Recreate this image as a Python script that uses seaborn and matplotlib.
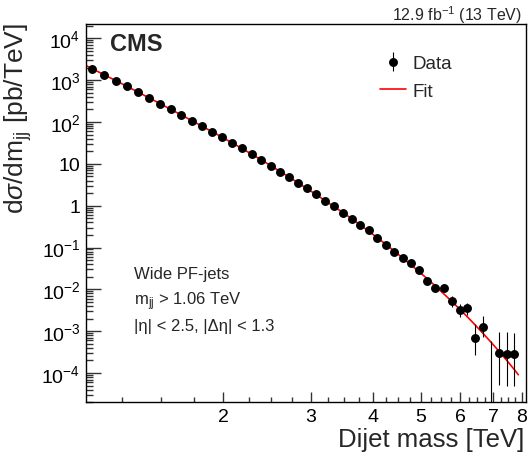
import numpy as np
import pandas as pd
import matplotlib
matplotlib.use("Agg")
import matplotlib.pyplot as plt
import seaborn as sns
from matplotlib.ticker import FixedLocator, FuncFormatter, LogLocator, NullFormatter

# ---------------- data ----------------
bin_edges_gev = [1058, 1118, 1181, 1246, 1313, 1383, 1455, 1530, 1607, 1687,
                 1770, 1856, 1945, 2037, 2132, 2231, 2332, 2438, 2546, 2659,
                 2775, 2895, 3019, 3147, 3279, 3416, 3558, 3704, 3854, 4010,
                 4171, 4337, 4509, 4686, 4869, 5058, 5253, 5455, 5663, 5877,
                 6099, 6328, 6564, 6808, 7060, 7320, 7589, 7866]

xsec = [1871, 1346, 968, 708, 518, 372, 273, 200, 146, 107,
        79.8, 58.6, 42.9, 31.3, 23.4, 16.9, 12.3, 8.85, 6.51, 4.84,
        3.56, 2.60, 1.87, 1.32, 0.984, 0.684, 0.492, 0.340, 0.269, 0.169,
        0.115, 0.0785, 0.0556, 0.0438, 0.0287, 0.0157, 0.0107, 0.0109, 0.00514, 0.00319,
        0.00350, 6.73e-4, 1.27e-3, 0.0, 2.95e-4, 2.88e-4, 2.80e-4]

err_lo = [0] * 30 + [0.0074, 0.0060, 0.0049, 0.0043, 0.0034, 0.0025, 0.0020, 0.0020,
                     0.0014, 0.0010, 0.0011, 4.0e-4, 5.5e-4, 0.0, 2.44e-4, 2.38e-4, 2.32e-4]
err_hi = [0] * 30 + [0.0074, 0.0060, 0.0049, 0.0043, 0.0038, 0.0029, 0.0024, 0.0024,
                     0.0017, 0.0013, 0.0013, 8.0e-4, 1.0e-3, 5.7e-4, 6.8e-4, 6.6e-4, 6.4e-4]

fit_vals = [2240, 1884, 1358, 982, 711, 516, 376, 274, 200, 147, 108,
            79.4, 58.5, 43.1, 31.7, 23.3, 17.1, 12.5, 9.10, 6.62, 4.81,
            3.48, 2.52, 1.82, 1.31, 0.942, 0.684, 0.486, 0.345, 0.244, 0.171,
            0.119, 0.0822, 0.0565, 0.0387, 0.0264, 0.0179, 0.0120, 0.00794, 0.00522, 0.00340,
            0.00219, 0.00139, 8.73e-4, 5.42e-4, 3.33e-4, 2.01e-4, 1.20e-4, 9.1e-5]

x_major = [2, 3, 4, 5, 6, 7, 8]
x_minor = [1.25, 1.5, 1.75, 2.25, 2.5, 2.75, 3.25, 3.5, 3.75, 4.25, 4.5, 4.75,
           5.25, 5.5, 5.75, 6.25, 6.5, 6.75, 7.25, 7.5, 7.75]
y_major = [1e-4, 1e-3, 1e-2, 1e-1, 1, 10, 1e2, 1e3, 1e4]

edges = np.array(bin_edges_gev) / 1000.0
centers = 0.5 * (edges[:-1] + edges[1:])
fit_mass = np.concatenate([[edges[0]], centers, [edges[-1]]])

data_df = pd.DataFrame({"mass": centers, "xsec": xsec, "lo": err_lo, "hi": err_hi})
fit_df = pd.DataFrame({"mass": fit_mass, "fit": fit_vals})

# ---------------- style ----------------
sns.set_theme(style="ticks")
plt.rcParams["font.family"] = ["Liberation Sans", "DejaVu Sans"]
plt.rcParams["mathtext.fontset"] = "custom"
plt.rcParams["mathtext.rm"] = "Liberation Sans"
plt.rcParams["mathtext.it"] = "Liberation Sans:italic"
plt.rcParams["mathtext.bf"] = "Liberation Sans:bold"

W, H = 529, 460
fig = plt.figure(figsize=(W / 100, H / 100), dpi=100)
ax = fig.add_axes([86 / W, 1 - 403.3 / H, (526 - 86) / W, (403.3 - 25) / H])

sns.lineplot(data=fit_df, x="mass", y="fit", ax=ax, color="#ff0000", lw=1.2,
             estimator=None, sort=False, label="Fit", zorder=2)
ax.errorbar(data_df["mass"], data_df["xsec"], yerr=[data_df["lo"], data_df["hi"]],
            fmt="o", color="black", ms=5.4, elinewidth=0.8, capsize=0,
            label="Data", zorder=3)

ax.set_xscale("log")
ax.set_yscale("log")
ax.set_xlim(edges[0], 8.152)
ax.set_ylim(2.0e-5, 2.2e4)

ax.xaxis.set_major_locator(FixedLocator(x_major))
ax.xaxis.set_minor_locator(FixedLocator(x_minor))
ax.xaxis.set_major_formatter(FuncFormatter(lambda v, p: f"{v:g}"))
ax.xaxis.set_minor_formatter(NullFormatter())

ax.yaxis.set_major_locator(FixedLocator(y_major))
ax.yaxis.set_minor_locator(LogLocator(base=10, subs=np.arange(2, 10), numticks=20))


def yfmt(v, p):
    e = int(round(np.log10(v)))
    if e == 0:
        return "1"
    if e == 1:
        return "10"
    return r"$10^{%d}$" % e


ax.yaxis.set_major_formatter(FuncFormatter(yfmt))
ax.yaxis.set_minor_formatter(NullFormatter())

ax.tick_params(axis="both", which="both", direction="in", colors="#333333",
               labelcolor="black", labelsize=14)
ax.tick_params(axis="y", which="major", length=11, width=1.0, pad=4)
ax.tick_params(axis="y", which="minor", length=5, width=1.0)
ax.tick_params(axis="x", which="major", length=7, width=1.0, pad=4)
ax.tick_params(axis="x", which="minor", length=3.5, width=1.0)
for s in ax.spines.values():
    s.set_linewidth(1.0)
    s.set_color("black")

ax.set_xlabel("")
ax.set_ylabel("")

# legend
handles, labels = ax.get_legend_handles_labels()
order = [labels.index("Data"), labels.index("Fit")]
ax.legend([handles[i] for i in order], [labels[i] for i in order],
          loc="upper left", bbox_to_anchor=(380 / W, 1 - 56 / H),
          bbox_transform=fig.transFigure, frameon=False, fontsize=13.5,
          handlelength=1.4, handletextpad=0.35, labelspacing=0.55,
          borderpad=0, borderaxespad=0)

# texts
fig.text(524 / W, 1 - 447 / H, "Dijet mass [TeV]", ha="right", va="baseline",
         fontsize=18.5)
fig.text(18 / W, 1 - 23 / H, r"d$\sigma$/dm$_{\mathrm{jj}}$ [pb/TeV]", rotation=90,
         ha="center", va="top", fontsize=19)
fig.text(110 / W, 1 - 33 / H, "CMS", ha="left", va="top", fontsize=17,
         fontweight="bold")
fig.text(522 / W, 1 - 21.5 / H, r"12.9 fb$^{-1}$ (13 TeV)", ha="right",
         va="baseline", fontsize=11.5)
fig.text(134 / W, 1 - 279 / H, "Wide PF-jets", ha="left", va="baseline", fontsize=12)
fig.text(134 / W, 1 - 305.5 / H, r"m$_{\mathrm{jj}}$ > 1.06 TeV", ha="left",
         va="baseline", fontsize=12)
fig.text(134 / W, 1 - 331.5 / H, "|η| < 2.5, |Δη| < 1.3", ha="left",
         va="baseline", fontsize=12)

fig.savefig("out.png", dpi=100)
